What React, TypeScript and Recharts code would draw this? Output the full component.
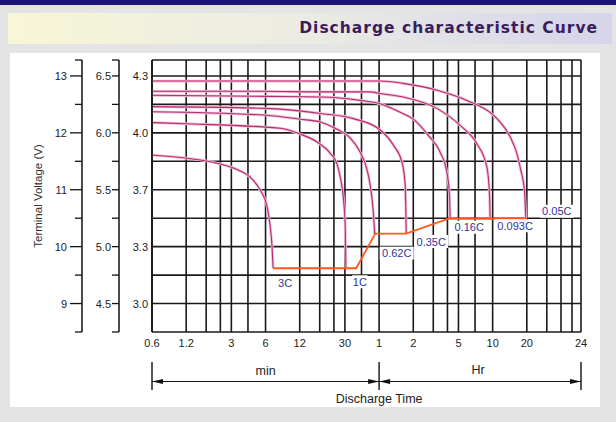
import React from "react";
import { LineChart, Line, XAxis, YAxis, ReferenceLine, ReferenceDot } from "recharts";

// time axis is minutes on a log scale; after 60 min the labels read in hours
const xTickValues = [0.6, 1.2, 3, 6, 12, 30, 60, 120, 300, 600, 1200, 3600];
const xTickLabels = ["0.6", "1.2", "3", "6", "12", "30", "1", "2", "5", "10", "20", "24"];
const gridMinutes = [
  0.6, 1.2, 1.8, 2.4, 3, 4.2, 6, 12, 18, 24, 30, 42, 60,
  120, 180, 240, 300, 420, 600, 1200, 1800, 2400, 3000, 3600,
];

// volts of the 12 V block; the other two scales only relabel it
const voltTicks = [8.5, 9, 9.5, 10, 10.5, 11, 11.5, 12, 12.5, 13, 13.28];
const majorVolts = [9, 10, 11, 12, 13];
const labels12V = ["9", "10", "11", "12", "13"];
const labels6V = ["4.5", "5.0", "5.5", "6.0", "6.5"];
const labelsCell = ["3.0", "3.3", "3.7", "4.0", "4.3"];

// [minutes, volts]
const curve3C: [number, number][] = [
  [0.6, 11.61], [1.26, 11.55], [2.2, 11.47], [3.5, 11.34], [4.4, 11.22],
  [5.4, 10.99], [6.2, 10.7], [6.6, 10.35], [6.85, 9.99], [7.0, 9.62],
];
const curve1C: [number, number][] = [
  [0.6, 12.18], [1.2, 12.16], [6, 12.1], [8.1, 12.08], [12.1, 11.98], [17, 11.84],
  [22.3, 11.64], [25.5, 11.46], [27.3, 11.22], [29.2, 10.82], [30.2, 10.35], [30.6, 9.62],
];
const curve062C: [number, number][] = [
  [0.6, 12.37], [6, 12.31], [12.1, 12.24], [18.2, 12.19], [24.6, 12.08], [33.4, 11.91],
  [40.9, 11.66], [46.1, 11.41], [50.1, 11.08], [53.2, 10.64], [54.9, 10.22],
];
const curve035C: [number, number][] = [
  [0.6, 12.46], [6, 12.43], [18.2, 12.34], [35.7, 12.25], [61.4, 12.05],
  [80.4, 11.78], [95.3, 11.49], [101.9, 11.08], [104, 10.23],
];
const curve016C: [number, number][] = [
  [0.6, 12.66], [6, 12.64], [18.2, 12.63], [40.9, 12.57], [61.4, 12.51], [92.1, 12.36],
  [120, 12.24], [162, 11.96], [207, 11.66], [237, 11.31], [250, 10.9], [253.6, 10.49],
];
const curve0093C: [number, number][] = [
  [0.6, 12.73], [5.4, 12.73], [18.2, 12.72], [50, 12.72], [61.4, 12.69], [97.8, 12.63],
  [193.7, 12.43], [310.6, 12.13], [435.6, 11.81], [533.5, 11.4], [562.5, 10.93], [570, 10.49],
];
const curve005C: [number, number][] = [
  [0.6, 12.91], [5.4, 12.91], [50, 12.91], [61.4, 12.91], [97.8, 12.87], [193.7, 12.75],
  [355.7, 12.57], [609.7, 12.31], [698, 12.19], [855.6, 11.93], [980, 11.64],
  [1063, 11.34], [1143, 10.99], [1175, 10.49],
];
const cutoffLine: [number, number][] = [
  [7.0, 9.62], [37.7, 9.62], [55.5, 10.23], [104, 10.23], [245, 10.49], [1175, 10.49],
];

const rateLabels = ["3C", "1C", "0.62C", "0.35C", "0.16C", "0.093C", "0.05C"];
const curves = [curve3C, curve1C, curve062C, curve035C, curve016C, curve0093C, curve005C];

// where each rate label sits relative to the end of its curve (px)
const labelOffsets = [[12, 15], [14, 13.5], [22, 19], [25, 8], [19, 8.5], [25, 7], [31, -7.5]];

const W = 616;
const H = 422;
const margin = { top: 60, right: 35, left: 22, bottom: 60 };
const axisW = { pack: 60, half: 37, cell: 33 };
const plotLeft = margin.left + axisW.pack + axisW.half + axisW.cell;
const plotRight = W - margin.right;
const font = "'Liberation Sans', Arial, sans-serif";
const gridColor = "#1a1a1a";

const toPoints = (c: [number, number][]) => c.map(([t, v]) => ({ t, v }));

// only for the min/Hr bracket under the axis
const xPix = (t: number) =>
  plotLeft + (Math.log10(t / 0.6) / Math.log10(3600 / 0.6)) * (plotRight - plotLeft);

function VoltTick(props: any) {
  const { x, y, payload, names, major, minor, gap } = props;
  const i = majorVolts.indexOf(payload.value);
  const len = i >= 0 ? major : minor;
  return (
    <g>
      {len > 0 && <line x1={x - len} x2={x} y1={y} y2={y} stroke="#111" strokeWidth={1.3} />}
      {i >= 0 && (
        <text x={x - len - gap} y={y} dy="0.36em" textAnchor="end" fontSize={11} fill="#222" fontFamily={font}>
          {names[i]}
        </text>
      )}
    </g>
  );
}

function RateLabel({ viewBox, text, dx, dy }: any) {
  if (!viewBox) return null;
  const cx = viewBox.x + (viewBox.width || 0) / 2 + dx;
  const cy = viewBox.y + (viewBox.height || 0) / 2 + dy;
  const w = text.length * 6.2 + 3;
  return (
    <g>
      <rect x={cx - w / 2} y={cy - 6.5} width={w} height={13} fill="#fff" />
      <text x={cx} y={cy} dy="0.36em" textAnchor="middle" fontSize={11} fill="#33339a" fontFamily={font}>
        {text}
      </text>
    </g>
  );
}

function Arrow({ tip, dir, y }: { tip: number; dir: 1 | -1; y: number }) {
  const back = tip - dir * 11;
  return <polygon points={`${tip},${y} ${back},${y - 2.6} ${back},${y + 2.6}`} fill="#111" />;
}

export default function App() {
  const x0 = xPix(0.6);
  const x1 = xPix(60);
  const x2 = xPix(3600);
  const by = 381.5;
  return (
    <div style={{ position: "absolute", left: 0, top: 0, width: W, height: H, background: "#e4e4e4", overflow: "hidden" }}>
      <div style={{ position: "absolute", left: 0, top: 0, width: W, height: 5, background: "#1b1377" }} />
      <div
        style={{
          position: "absolute", left: 8, top: 13, width: 604, height: 31,
          background: "linear-gradient(to right, #f7f6d6, #ebebe4 50%, #d5d4ea)",
        }}
      />
      <div
        style={{
          position: "absolute", right: 18, top: 20, lineHeight: "16px", fontSize: 15.5,
          letterSpacing: 1, fontWeight: "bold", fontFamily: "'DejaVu Sans', Verdana, sans-serif", color: "#3b1d5c",
        }}
      >
        Discharge characteristic Curve
      </div>
      <div style={{ position: "absolute", left: 10, top: 53, width: 590, height: 354, background: "#fff" }} />

      <div style={{ position: "absolute", left: 0, top: 0 }}>
        <LineChart width={W} height={H} margin={margin}>
          <XAxis
            dataKey="t"
            type="number"
            scale="log"
            domain={[0.6, 3600]}
            allowDataOverflow
            ticks={xTickValues}
            interval={0}
            tickFormatter={(v: number) => xTickLabels[xTickValues.indexOf(v)] ?? ""}
            tickLine={false}
            axisLine={false}
            tickSize={0}
            tickMargin={7}
            height={30}
            tick={{ fontSize: 11, fill: "#222", fontFamily: font }}
          />
          <YAxis
            yAxisId="cell"
            type="number"
            domain={[8.5, 13.28]}
            allowDataOverflow
            ticks={voltTicks}
            interval={0}
            width={axisW.cell}
            tickLine={false}
            tickSize={0}
            tickMargin={0}
            axisLine={{ stroke: "#111", strokeWidth: 1.5 }}
            tick={(p: any) => <VoltTick {...p} names={labelsCell} major={0} minor={0} gap={4} />}
          />
          <YAxis
            yAxisId="half"
            type="number"
            domain={[8.5, 13.28]}
            allowDataOverflow
            ticks={voltTicks}
            interval={0}
            width={axisW.half}
            tickLine={false}
            tickSize={0}
            tickMargin={0}
            axisLine={{ stroke: "#111", strokeWidth: 1.5 }}
            tick={(p: any) => <VoltTick {...p} names={labels6V} major={7} minor={7} gap={1} />}
          />
          <YAxis
            yAxisId="pack"
            type="number"
            domain={[8.5, 13.28]}
            allowDataOverflow
            ticks={voltTicks}
            interval={0}
            width={axisW.pack}
            tickLine={false}
            tickSize={0}
            tickMargin={0}
            axisLine={{ stroke: "#111", strokeWidth: 1.5 }}
            tick={(p: any) => <VoltTick {...p} names={labels12V} major={12} minor={7} gap={3} />}
          />

          {voltTicks.map((v) => (
            <ReferenceLine key={"h" + v} y={v} yAxisId="pack" stroke={gridColor} strokeWidth={1.6} ifOverflow="visible" />
          ))}
          {gridMinutes.map((t) => (
            <ReferenceLine key={"v" + t} x={t} yAxisId="pack" stroke={gridColor} strokeWidth={1.6} ifOverflow="visible" />
          ))}

          {curves.map((c, i) => (
            <Line
              key={"halo" + i}
              data={toPoints(c)}
              dataKey="v"
              yAxisId="pack"
              type="monotone"
              stroke="#efbdd5"
              strokeWidth={2.8}
              dot={false}
              activeDot={false}
              isAnimationActive={false}
            />
          ))}
          {curves.map((c, i) => (
            <Line
              key={"core" + i}
              data={toPoints(c)}
              dataKey="v"
              yAxisId="pack"
              type="monotone"
              stroke="#b82c70"
              strokeWidth={1.1}
              dot={false}
              activeDot={false}
              isAnimationActive={false}
            />
          ))}
          <Line
            data={toPoints(cutoffLine)}
            dataKey="v"
            yAxisId="pack"
            type="linear"
            stroke="#ff5a1e"
            strokeWidth={1.8}
            dot={false}
            activeDot={false}
            isAnimationActive={false}
          />

          {curves.map((c, i) => {
            const [t, v] = c[c.length - 1];
            const [dx, dy] = labelOffsets[i];
            return (
              <ReferenceDot
                key={"lab" + i}
                x={t}
                y={v}
                yAxisId="pack"
                r={1}
                fill="none"
                stroke="none"
                ifOverflow="visible"
                label={(p: any) => <RateLabel viewBox={p.viewBox} text={rateLabels[i]} dx={dx} dy={dy} />}
              />
            );
          })}
        </LineChart>
      </div>

      <svg width={W} height={H} style={{ position: "absolute", left: 0, top: 0, pointerEvents: "none" }}>
        <text
          x={38}
          y={196}
          transform="rotate(-90 38 196)"
          textAnchor="middle"
          dominantBaseline="central"
          fontSize={11.5}
          fill="#333"
          fontFamily={font}
        >
          Terminal Voltage  (V)
        </text>
        {[x0, x1, x2].map((x) => (
          <line key={x} x1={x} x2={x} y1={362} y2={390} stroke="#111" strokeWidth={1.4} />
        ))}
        <line x1={x0} x2={x2} y1={by} y2={by} stroke="#111" strokeWidth={1.2} />
        <Arrow tip={x0} dir={-1} y={by} />
        <Arrow tip={x1} dir={1} y={by} />
        <Arrow tip={x1} dir={-1} y={by} />
        <Arrow tip={x2} dir={1} y={by} />
        <text x={(x0 + x1) / 2} y={371} textAnchor="middle" dominantBaseline="central" fontSize={12.5} fill="#222" fontFamily={font}>
          min
        </text>
        <text x={478} y={370} textAnchor="middle" dominantBaseline="central" fontSize={12.5} fill="#222" fontFamily={font}>
          Hr
        </text>
        <text x={x1} y={399} textAnchor="middle" dominantBaseline="central" fontSize={12.5} fill="#222" fontFamily={font}>
          Discharge Time
        </text>
      </svg>
    </div>
  );
}
